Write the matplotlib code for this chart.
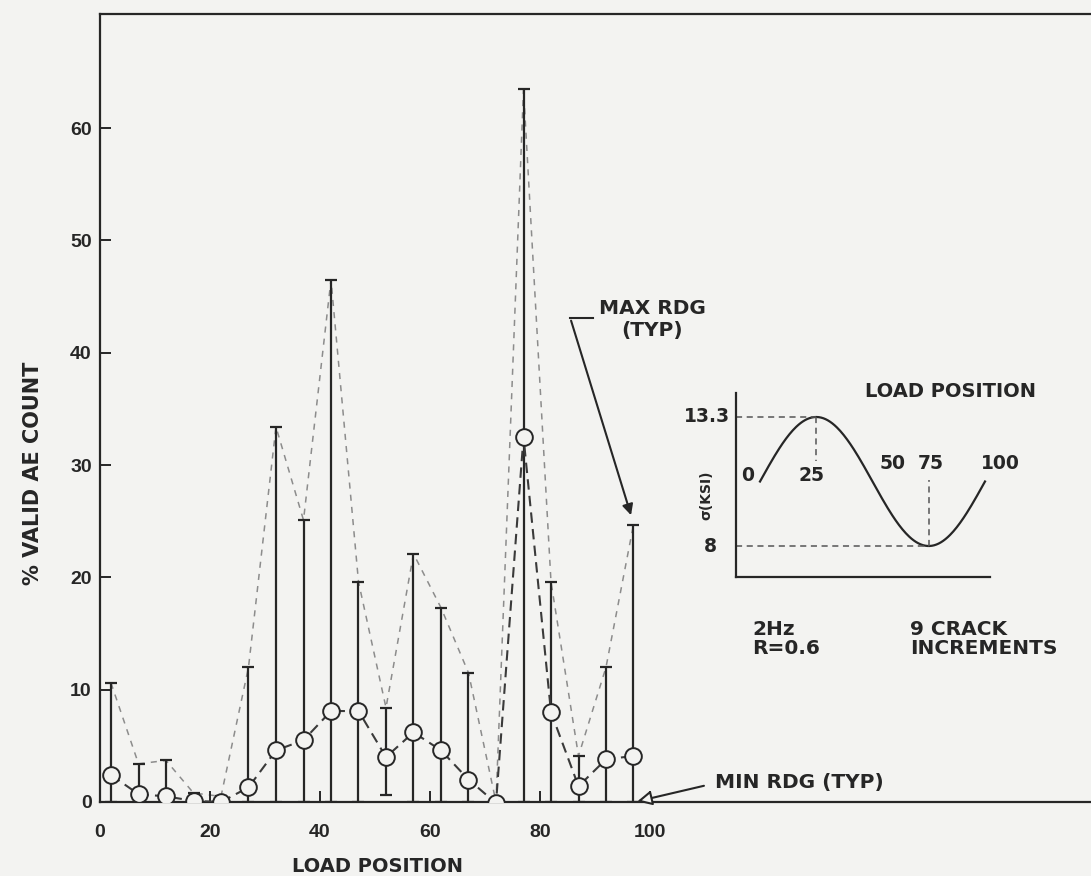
import numpy as np
import matplotlib.pyplot as plt

plt.rcParams['font.family'] = ['DejaVu Sans']
plt.rcParams['font.weight'] = 'bold'

# data
load_pos = [2, 7, 12, 17, 22, 27, 32, 37, 42, 47, 52, 57, 62, 67, 72, 77, 82, 87, 92, 97]
mean_pct = [2.4, 0.7, 0.5, 0.1, 0.0, 1.3, 4.6, 5.5, 8.1, 8.1, 4.0, 6.2, 4.6, 2.0, -0.1, 32.5, 8.0, 1.4, 3.8, 4.1]
max_pct = [10.6, 3.4, 3.7, 0.8, 0.5, 12.0, 33.4, 25.1, 46.5, 19.6, 8.4, 22.1, 17.3, 11.5, 0.0, 63.5, 19.6, 4.1, 12.0, 24.7]
min_pct = [0, 0, 0, 0, 0, 0, 0, 0, 0, 0, 0.6, 0, 0, 0, 0, 0, 0, 0, 0, 0]

# inset: load waveform, sigma (KSI)
sigma_max = 13.3
sigma_min = 8.0
inset_ticks = [0, 25, 50, 75, 100]

bg = '#f3f3f1'
ink = '#262626'

fig = plt.figure(figsize=(10.91, 8.76), dpi=100, facecolor=bg)
ax = fig.add_axes([100 / 1091, 74 / 876, 991 / 1091, 788 / 876], facecolor=bg)

mean_a = np.array(mean_pct)
lo_err = np.clip(mean_a - np.array(min_pct), 0, None)
hi_err = np.clip(np.array(max_pct) - mean_a, 0, None)
ax.errorbar(load_pos, mean_pct, yerr=[lo_err, hi_err],
            fmt='none', ecolor=ink, elinewidth=1.6, capsize=4, capthick=1.6, zorder=2)
ax.plot(load_pos, max_pct, ls=(0, (4, 4)), color='#8c8c8c', lw=1.1, zorder=1)
ax.plot(load_pos, mean_pct, ls=(0, (5, 3)), color='#3a3a3a', lw=1.5, zorder=3,
        marker='o', ms=12, mfc=bg, mec=ink, mew=1.4)

ax.set_xlim(0, 991 / 5.5)
ax.set_ylim(0, 788 / 11.23)
ax.set_xticks([0, 20, 40, 60, 80, 100])
ax.set_yticks([0, 10, 20, 30, 40, 50, 60])
ax.tick_params(direction='in', length=8, width=1.4, colors=ink, labelsize=14)
ax.tick_params(axis='x', pad=16)
ax.tick_params(axis='y', pad=6)
for lbl in ax.get_xticklabels() + ax.get_yticklabels():
    lbl.set_fontfamily('Liberation Sans')
for s in ['left', 'bottom', 'top']:
    ax.spines[s].set_linewidth(1.6)
    ax.spines[s].set_color(ink)
ax.spines['right'].set_visible(False)

ax.text((33 - 100) / 991, (802 - 473) / 788, '% VALID AE COUNT', transform=ax.transAxes,
        rotation=90, ha='center', va='center', fontsize=15, color=ink)
ax.text(50.5, -5.7, 'LOAD POSITION', ha='center', va='center', fontsize=14, color=ink, clip_on=False)

# MAX RDG annotation
ax.plot([89.6, 85.5], [43.1, 43.1], color=ink, lw=1.5)
ax.annotate('', xy=(96.7, 25.3), xytext=(85.5, 43.1),
            arrowprops=dict(arrowstyle='-|>', color=ink, lw=1.5, mutation_scale=16))
ax.text(100.4, 43.0, 'MAX RDG\n(TYP)', ha='center', va='center', fontsize=14.5, color=ink, linespacing=1.2)

# MIN RDG annotation
ax.annotate('', xy=(97.2, 0.0), xytext=(110.3, 1.5),
            arrowprops=dict(arrowstyle='-|>', color=ink, lw=1.5, mutation_scale=22, fc=bg))
ax.text(111.8, 1.7, 'MIN RDG (TYP)', ha='left', va='center', fontsize=14.5, color=ink)

# inset waveform
px_x = 2.25
px_y = 24.34
ax2 = fig.add_axes([736 / 1091, (876 - 577) / 876, (990 - 736) / 1091, (577 - 393) / 876])
ax2.set_xlim(-(760 - 736) / px_x, (990 - 760) / px_x)
ax2.set_ylim(sigma_min - (577 - 546) / px_y, sigma_max + (417 - 393) / px_y)
ax2.patch.set_visible(False)
for s in ['right', 'top']:
    ax2.spines[s].set_visible(False)
for s in ['left', 'bottom']:
    ax2.spines[s].set_linewidth(1.6)
    ax2.spines[s].set_color(ink)
ax2.set_xticks([])
ax2.set_yticks([])

p = np.linspace(0, 100, 200)
mid = (sigma_max + sigma_min) / 2
amp = (sigma_max - sigma_min) / 2
ax2.plot(p, mid + amp * np.sin(2 * np.pi * p / 100), color=ink, lw=1.6)
x_lo = ax2.get_xlim()[0]
ax2.plot([x_lo, 25], [sigma_max, sigma_max], ls=(0, (4, 3)), color='#555', lw=1.1)
ax2.plot([x_lo, 75], [sigma_min, sigma_min], ls=(0, (4, 3)), color='#555', lw=1.1)
ax2.plot([25, 25], [sigma_max, 11.5], ls=(0, (4, 3)), color='#555', lw=1.1)
ax2.plot([75, 75], [sigma_min, 10.7], ls=(0, (4, 3)), color='#555', lw=1.1)

ax2.text(-13.3, sigma_max, '13.3', ha='right', va='center', fontsize=13.5, color=ink, clip_on=False)
ax2.text(-22, sigma_min, '8', ha='center', va='center', fontsize=13.5, color=ink, clip_on=False)
tick_xy = [(-5.3, 10.9), (23, 10.9), (58.7, 11.4), (76, 11.4), (106.7, 11.4)]
for t, (tx, ty) in zip(inset_ticks, tick_xy):
    ax2.text(tx, ty, str(t), ha='center', va='center', fontsize=13.5, color=ink, clip_on=False)
ax2.text(84.5, 14.33, 'LOAD POSITION', ha='center', va='center', fontsize=14, color=ink, clip_on=False)
ax2.text(-24, 10.1, 'σ(KSI)', ha='center', va='center', rotation=90, fontsize=10, color=ink, clip_on=False)
ax2.text(-3.6, 4.18, '2Hz\nR=0.6', ha='left', va='center', fontsize=14.5, color=ink,
         linespacing=1.05, clip_on=False)
ax2.text(66.7, 4.18, '9 CRACK\nINCREMENTS', ha='left', va='center', fontsize=14.5, color=ink,
         linespacing=1.05, clip_on=False)

fig.savefig('out.png', dpi=100, facecolor=bg)
